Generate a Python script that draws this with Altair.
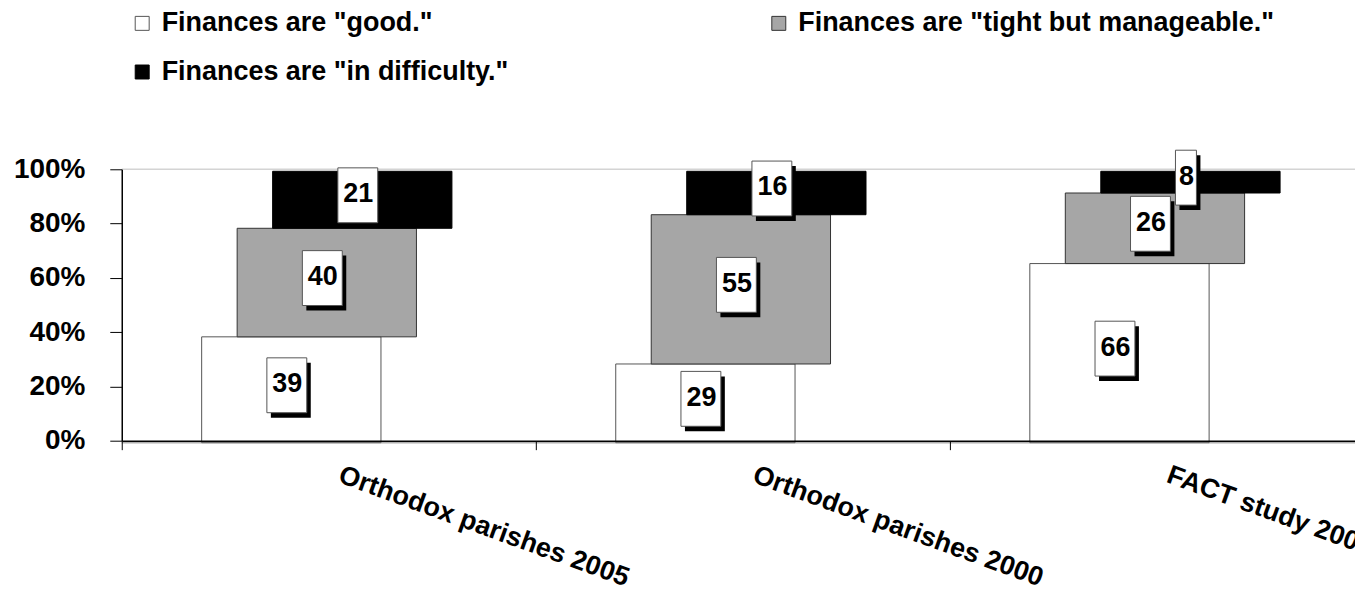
import altair as alt
import pandas as pd

# ---------------- data ----------------
categories = ["Orthodox parishes 2005", "Orthodox parishes 2000", "FACT study 2000"]
series = ['Finances are "good."', 'Finances are "tight but manageable."', 'Finances are "in difficulty."']
good = [39, 29, 66]
tight = [40, 55, 26]
difficulty = [21, 16, 8]
y_ticks = [0, 20, 40, 60, 80, 100]
colors = ["#ffffff", "#a6a6a6", "#000000"]
strokes = ["#555555", "#333333", "#000000"]

FONT = "Liberation Sans"

# ---------------- layout (band units) ----------------
BAR_START = 0.193   # left edge of the front bar inside a category band
BAR_WIDTH = 0.433   # bar width as a fraction of the band
DEPTH = 0.0857      # pseudo-3D shift of each stacked segment
PLOT_W = 1236
BAND_PX = 415
XMAX = PLOT_W / BAND_PX

rows = []
for i, cat in enumerate(categories):
    base = 0
    for j, (s, vals) in enumerate(zip(series, [good, tight, difficulty])):
        v = vals[i]
        x0 = i + BAR_START + j * DEPTH
        rows.append(dict(category=cat, series=s, order=j, value=v,
                         x0=x0, x1=x0 + BAR_WIDTH, xm=x0 + BAR_WIDTH / 2,
                         y0=base, y1=base + v, ym=base + v / 2,
                         digits=str(len(str(v)))))
        base += v
df = pd.DataFrame(rows)

xscale = alt.Scale(domain=[0, XMAX], nice=False, zero=False)
yscale = alt.Scale(domain=[0, 100], nice=False)

label_expr = " : ".join(
    f"datum.value === {i + 0.5} ? '{c}'" for i, c in enumerate(categories)
) + " : ''"

x_axis = alt.Axis(
    values=[0, 0.5, 1, 1.5, 2, 2.5],
    labelExpr=label_expr,
    tickOpacity={"condition": {"test": "datum.value % 1 === 0", "value": 1}, "value": 0},
    tickSize=9, tickColor="black", tickWidth=1,
    domainColor="black", domainWidth=1.5,
    labelAngle=20, labelAlign="left", labelBaseline="top",
    labelOffset=15, labelPadding=12, labelLimit=2000,
    labelFont=FONT, labelFontSize=27, labelFontWeight="bold", labelColor="black",
    labelOverlap=False, labelFlush=False, grid=False, title=None, zindex=1,
)
y_axis = alt.Axis(
    values=y_ticks, labelExpr="datum.value + '%'",
    labelFont=FONT, labelFontSize=28, labelFontWeight="bold", labelColor="black",
    tickSize=12, tickColor="black", domainColor="black", domainWidth=1.5,
    labelPadding=25, grid=False, title=None, zindex=1,
)

legend = alt.Legend(
    title=None, orient="none", legendX=7, legendY=-160,
    values=[series[0], series[2], series[1]],
    columns=2, columnPadding=257, rowPadding=21,
    symbolType="square", symbolSize=196,
    symbolStrokeColor="#555555", symbolStrokeWidth=1, symbolOpacity=1,
    labelFont=FONT, labelFontSize=27, labelFontWeight="bold",
    labelColor="black", labelLimit=1000, labelOffset=6,
)

bars = alt.Chart(df).mark_rect(strokeWidth=1, yOffset=2, y2Offset=2).encode(
    x=alt.X("x0:Q", scale=xscale, axis=x_axis),
    x2="x1:Q",
    y=alt.Y("y0:Q", scale=yscale, axis=y_axis),
    y2="y1:Q",
    fill=alt.Fill("series:N", scale=alt.Scale(domain=series, range=colors), legend=legend),
    stroke=alt.Stroke("series:N", scale=alt.Scale(domain=series, range=strokes), legend=None),
    order=alt.Order("order:Q"),
)

# back-wall top line and floor edge
top_line = alt.Chart(pd.DataFrame({"y": [100]})).mark_rule(color="#d4d4d4", strokeWidth=1.5).encode(
    y=alt.Y("y:Q", scale=yscale, axis=y_axis))
floor_line = alt.Chart(pd.DataFrame({"y": [0]})).mark_rule(color="#b0b0b0", strokeWidth=1.5, yOffset=2).encode(
    y=alt.Y("y:Q", scale=yscale, axis=y_axis))

box2 = "M-0.727,-1L0.727,-1L0.727,1L-0.727,1Z"
box1 = "M-0.382,-1L0.382,-1L0.382,1L-0.382,1Z"
shape_scale = alt.Scale(domain=["1", "2"], range=[box1, box2])

shadows = alt.Chart(df).mark_point(filled=True, color="black", opacity=1, size=3025,
                                   xOffset=-0.5, yOffset=2.5).encode(
    x=alt.X("xm:Q", scale=xscale, axis=x_axis),
    y=alt.Y("ym:Q", scale=yscale, axis=y_axis),
    shape=alt.Shape("digits:N", scale=shape_scale, legend=None),
)
boxes = alt.Chart(df).mark_point(filled=True, fill="white", stroke="#555555", strokeWidth=1,
                                 opacity=1, size=3025, xOffset=-4.5, yOffset=-2.5).encode(
    x=alt.X("xm:Q", scale=xscale, axis=x_axis),
    y=alt.Y("ym:Q", scale=yscale, axis=y_axis),
    shape=alt.Shape("digits:N", scale=shape_scale, legend=None),
)
texts = alt.Chart(df).mark_text(font=FONT, fontSize=27, fontWeight="bold", color="black",
                                align="center", baseline="middle", dx=-4, dy=-3.5).encode(
    x=alt.X("xm:Q", scale=xscale, axis=x_axis),
    y=alt.Y("ym:Q", scale=yscale, axis=y_axis),
    text=alt.Text("value:Q"),
)

chart = alt.layer(top_line, floor_line, bars, shadows, boxes, texts).properties(
    width=PLOT_W, height=272,
    autosize=alt.AutoSizeParams(type="none"),
    padding={"left": 114, "top": 161, "right": 0, "bottom": 154},
    background="white",
).configure_view(stroke=None)

chart.save("out.html", embed_options={"renderer": "svg", "actions": False})
